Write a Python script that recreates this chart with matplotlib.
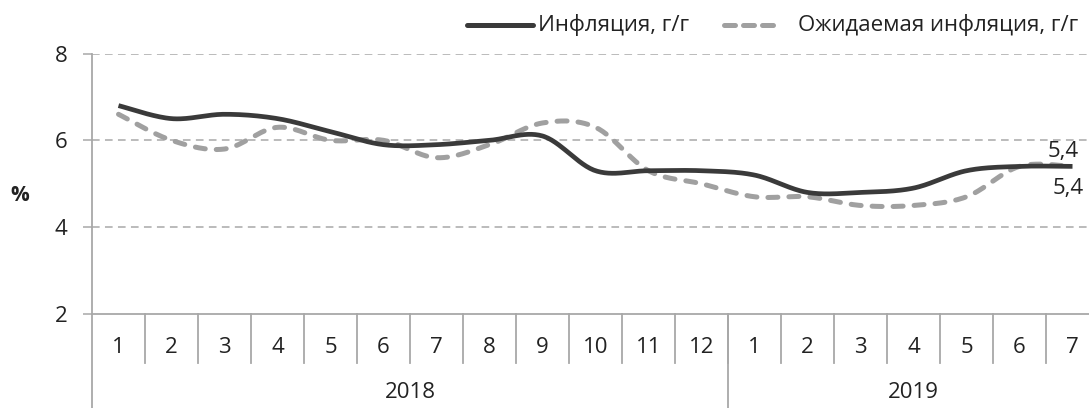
import matplotlib
matplotlib.use('Agg')
import matplotlib.pyplot as plt
from matplotlib.lines import Line2D
import numpy as np

plt.rcParams['font.family'] = ['Open Sans', 'DejaVu Sans']

# monthly data, Jan 2018 - Jul 2019
months = ['1', '2', '3', '4', '5', '6', '7', '8', '9', '10', '11', '12',
          '1', '2', '3', '4', '5', '6', '7']
years = ['2018', '2019']
year_counts = [12, 7]
inflation = [6.8, 6.5, 6.6, 6.5, 6.2, 5.9, 5.9, 6.0, 6.1, 5.3, 5.3, 5.3,
             5.2, 4.8, 4.8, 4.9, 5.3, 5.4, 5.4]
expected = [6.6, 6.0, 5.8, 6.3, 6.0, 6.0, 5.6, 5.9, 6.4, 6.3, 5.3, 5.0,
            4.7, 4.7, 4.5, 4.5, 4.7, 5.4, 5.4]
name_infl = 'Инфляция, г/г'
name_exp = 'Ожидаемая инфляция, г/г'

DARK = '#3a3a3a'
LIGHT = '#a0a0a0'
GRID = '#a8a8a8'
TXT = '#222222'
FS = 16


def smooth(x, y, n=30):
    # excel-like smoothed line (bezier through the points)
    x = np.asarray(x, float)
    y = np.asarray(y, float)
    xs, ys = [], []
    for i in range(len(x) - 1):
        p0 = np.array([x[max(i - 1, 0)], y[max(i - 1, 0)]])
        p1 = np.array([x[i], y[i]])
        p2 = np.array([x[i + 1], y[i + 1]])
        p3 = np.array([x[min(i + 2, len(x) - 1)], y[min(i + 2, len(x) - 1)]])
        c1 = p1 + (p2 - p0) / 6
        c2 = p2 - (p3 - p1) / 6
        t = np.linspace(0, 1, n)[:, None]
        pts = ((1 - t) ** 3) * p1 + 3 * ((1 - t) ** 2) * t * c1 + 3 * (1 - t) * t ** 2 * c2 + t ** 3 * p2
        xs.extend(pts[:, 0])
        ys.extend(pts[:, 1])
    return np.array(xs), np.array(ys)


fig = plt.figure(figsize=(10.89, 4.08), dpi=100)
W, H = 1089, 408
ax = fig.add_axes([92 / W, (H - 314) / H, (1099 - 92) / W, (314 - 53.5) / H])

xpos = np.arange(len(months)) + 0.5
sx, sy = smooth(xpos, expected)
ax.plot(sx, sy, color=LIGHT, lw=3.6, dashes=(2.0, 2.2), dash_capstyle='round', zorder=3)
sx, sy = smooth(xpos, inflation)
ax.plot(sx, sy, color=DARK, lw=3.4, solid_capstyle='butt', zorder=4)

ax.set_xlim(0, len(months))
ax.set_ylim(2, 8)
ax.set_yticks([2, 4, 6, 8])
for yv in [4, 6, 8]:
    ax.axhline(yv, color=GRID, lw=1.1, dashes=(5, 3.5), zorder=1)

for s in ['top', 'right']:
    ax.spines[s].set_visible(False)
for s in ['left', 'bottom']:
    ax.spines[s].set_color(GRID)
    ax.spines[s].set_linewidth(1.3)
ax.tick_params(axis='y', length=6.5, width=1.1, color=GRID, pad=11,
               labelsize=FS, labelcolor=TXT)
ax.set_xticks([])

# category axis: months and years
tr = ax.get_xaxis_transform()
for i, m in enumerate(months):
    ax.text(xpos[i], -0.127, m, transform=tr, ha='center', va='center',
            fontsize=FS, color=TXT)
    if i > 0:
        ax.plot([i, i], [0, -0.188], transform=tr, color=GRID, lw=1.3, clip_on=False)
start = 0
for yname, cnt in zip(years, year_counts):
    ax.plot([start, start], [0, -0.37], transform=tr, color=GRID, lw=1.3, clip_on=False)
    ax.text(start + cnt / 2, -0.303, yname, transform=tr, ha='center', va='center',
            fontsize=FS, color=TXT)
    start += cnt
ax.plot([start, start], [0, -0.37], transform=tr, color=GRID, lw=1.3, clip_on=False)

# end labels
ax.annotate('5,4', xy=(xpos[-1], inflation[-1]), xytext=(-7, 11), textcoords='offset points',
            ha='center', va='center', fontsize=FS, color=TXT)
ax.annotate('5,4', xy=(xpos[-1], expected[-1]), xytext=(-3, -16), textcoords='offset points',
            ha='center', va='center', fontsize=FS, color=TXT)

fig.text(20 / W, 1 - 195 / H, '%', ha='center', va='center', fontsize=FS - 1,
         fontweight='bold', color=TXT)

# legend
ly = 1 - 25 / H
fig.add_artist(Line2D([467 / W, 533 / W], [ly, ly], color=DARK, lw=3.6,
                      solid_capstyle='round'))
fig.text(538 / W, ly, name_infl, ha='left', va='center', fontsize=FS, color=TXT)
fig.add_artist(Line2D([724 / W, 781 / W], [ly, ly], color=LIGHT, lw=3.6,
                      dashes=(2.2, 1.6), dash_capstyle='round'))
fig.text(798 / W, ly, name_exp, ha='left', va='center', fontsize=FS, color=TXT)

fig.savefig('out.png', dpi=100)
